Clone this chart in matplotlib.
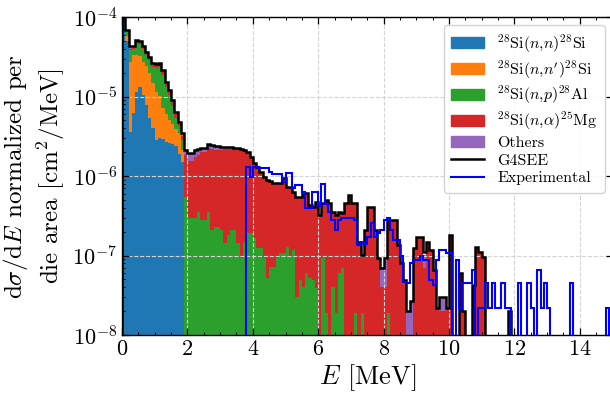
import numpy as np
import matplotlib
matplotlib.use("Agg")
import matplotlib.pyplot as plt
from matplotlib.patches import Patch
from matplotlib.lines import Line2D
from matplotlib.ticker import MultipleLocator, LogLocator

plt.rcParams.update({
    "font.family": "serif",
    "font.serif": ["cmr10"],
    "mathtext.fontset": "cm",
    "axes.formatter.use_mathtext": True,
    "axes.unicode_minus": False,
})

# ---------------- data (dsigma/dE, units of 1e-8 cm^2/MeV), 0.1 MeV bins from 0 to 15 MeV
UNIT = 1e-8
E_MIN, E_MAX, N_BINS = 0.0, 15.0, 150

G4SEE_TOTAL = [
    9800, 6900, 4350, 4350, 5200, 5000, 4350, 3650, 3150, 2650,
    2600, 2650, 2150, 1530, 1210, 910, 640, 480, 350, 213,
    195, 195, 213, 219, 225, 225, 253, 246, 239, 239,
    232, 232, 232, 232, 228, 222, 219, 215, 200, 174,
    146, 130, 112, 97, 89, 86, 82, 82, 82, 94,
    73, 73, 63, 54, 54, 61, 61, 43, 41, 47,
    32, 46, 50, 46, 35, 32, 35, 34, 46, 58,
    46, 46, 14.7, 10.1, 21, 41, 41, 21, 9.2, 6.9,
    9.2, 28, 28, 28, 13.5, 8.0, 4.9, 2.0, 2.7, 12.4,
    17, 17, 11, 14.7, 11.7, 6.5, 2.2, 3.0, 3.0, 2.2,
    18, 0, 0, 6.0, 2.0, 0, 0, 4.2, 12.7, 11,
    9.5, 0, 0, 0, 0, 0, 0, 0, 2.0, 0,
    0, 0, 0, 0, 0, 0, 0, 0, 0, 0,
    0, 0, 0, 0, 0, 0, 0, 0, 0, 0,
    0, 0, 0, 0, 0, 0, 0, 0, 0, 0,
]

SI_NN = [
    9300, 5000, 360, 620, 1150, 1320, 1050, 790, 540, 400,
    280, 300, 290, 270, 260, 250, 240, 190, 150, 0,
    0, 0, 0, 0, 0, 0, 0, 0, 0, 0,
    0, 0, 0, 0, 0, 0, 0, 0, 0, 0,
    0, 0, 0, 0, 0, 0, 0, 0, 0, 0,
    0, 0, 0, 0, 0, 0, 0, 0, 0, 0,
    0, 0, 0, 0, 0, 0, 0, 0, 0, 0,
    0, 0, 0, 0, 0, 0, 0, 0, 0, 0,
    0, 0, 0, 0, 0, 0, 0, 0, 0, 0,
    0, 0, 0, 0, 0, 0, 0, 0, 0, 0,
    0, 0, 0, 0, 0, 0, 0, 0, 0, 0,
    0, 0, 0, 0, 0, 0, 0, 0, 0, 0,
    0, 0, 0, 0, 0, 0, 0, 0, 0, 0,
    0, 0, 0, 0, 0, 0, 0, 0, 0, 0,
    0, 0, 0, 0, 0, 0, 0, 0, 0, 0,
]

SI_NNP = [
    200, 800, 2390, 2740, 2210, 1880, 1700, 1610, 1460, 1100,
    870, 700, 430, 330, 250, 200, 150, 160, 60, 0,
    0, 0, 0, 0, 0, 0, 0, 0, 0, 0,
    0, 0, 0, 0, 0, 0, 0, 0, 0, 0,
    0, 0, 0, 0, 0, 0, 0, 0, 0, 0,
    0, 0, 0, 0, 0, 0, 0, 0, 0, 0,
    0, 0, 0, 0, 0, 0, 0, 0, 0, 0,
    0, 0, 0, 0, 0, 0, 0, 0, 0, 0,
    0, 0, 0, 0, 0, 0, 0, 0, 0, 0,
    0, 0, 0, 0, 0, 0, 0, 0, 0, 0,
    0, 0, 0, 0, 0, 0, 0, 0, 0, 0,
    0, 0, 0, 0, 0, 0, 0, 0, 0, 0,
    0, 0, 0, 0, 0, 0, 0, 0, 0, 0,
    0, 0, 0, 0, 0, 0, 0, 0, 0, 0,
    0, 0, 0, 0, 0, 0, 0, 0, 0, 0,
]

SI_NP = [
    0, 600, 1100, 600, 1300, 1350, 1200, 900, 850, 850,
    1150, 1350, 1150, 700, 520, 320, 150, 70, 70, 54,
    30, 30, 30, 35, 28, 28, 35, 21, 23, 23,
    21, 14.5, 18, 21, 21, 14.5, 9.2, 14.7, 19, 19,
    16.5, 12.5, 12.5, 9.2, 5.2, 7.1, 7.1, 9.2, 10.7, 10.7,
    12.7, 9.5, 11.7, 3.0, 4.9, 4.0, 6.0, 5.2, 4.9, 3.9,
    0, 9.2, 1.9, 0, 4.0, 1.9, 6.0, 6.9, 0, 0,
    0, 1.9, 0, 1.9, 0, 0, 0, 0, 0, 0,
    0, 1.9, 0, 0, 0, 0, 0, 0, 0, 0,
    0, 0, 0, 0, 0, 0, 0, 0, 0, 0,
    0, 0, 0, 0, 0, 0, 0, 0, 0, 0,
    0, 0, 0, 0, 0, 0, 0, 0, 0, 0,
    0, 0, 0, 0, 0, 0, 0, 0, 0, 0,
    0, 0, 0, 0, 0, 0, 0, 0, 0, 0,
    0, 0, 0, 0, 0, 0, 0, 0, 0, 0,
]

SI_NA = [
    0, 0, 150, 100, 150, 150, 150, 150, 120, 150,
    150, 150, 150, 130, 100, 80, 60, 30, 40, 129,
    125, 125, 143, 149, 170, 170, 188, 195, 191, 191,
    191, 202, 200, 199, 195, 197, 200, 192, 175, 151,
    126, 115, 99, 88, 84, 79, 75, 73, 71, 83,
    60, 63, 51, 51, 49, 57, 55, 38, 36, 43,
    32, 37, 48, 46, 31, 30, 29, 27, 46, 58,
    46, 44, 14.7, 8.2, 21, 41, 41, 21, 9.2, 4.0,
    4.0, 26, 28, 28, 13.5, 8.0, 4.9, 0, 0, 12.4,
    17, 17, 7.0, 14.7, 11.7, 6.5, 2.2, 2.0, 2.0, 2.2,
    18, 0, 0, 6.0, 2.0, 0, 0, 4.2, 12.7, 11,
    9.5, 0, 0, 0, 0, 0, 0, 0, 0, 0,
    0, 0, 0, 0, 0, 0, 0, 0, 0, 0,
    0, 0, 0, 0, 0, 0, 0, 0, 0, 0,
    0, 0, 0, 0, 0, 0, 0, 0, 0, 0,
]

OTHERS = [
    300, 500, 350, 290, 390, 300, 250, 200, 180, 150,
    150, 150, 130, 100, 80, 60, 40, 30, 30, 30,
    40, 40, 40, 35, 27, 27, 30, 30, 25, 25,
    20, 15, 14, 12, 12, 10, 10, 8, 6, 4,
    3, 2, 0, 0, 0, 0, 0, 0, 0, 0,
    0, 0, 0, 0, 0, 0, 0, 0, 0, 0,
    0, 0, 0, 0, 0, 0, 0, 0, 0, 0,
    0, 0, 0, 0, 0, 0, 0, 0, 0, 2.9,
    4.7, 0, 0, 0, 0, 0, 0, 2.0, 2.7, 0,
    0, 0, 3.0, 0, 0, 0, 0, 1.0, 1.0, 0,
    0, 0, 0, 0, 0, 0, 0, 0, 0, 0,
    0, 0, 0, 0, 0, 0, 0, 0, 2.0, 0,
    0, 0, 0, 0, 0, 0, 0, 0, 0, 0,
    0, 0, 0, 0, 0, 0, 0, 0, 0, 0,
    0, 0, 0, 0, 0, 0, 0, 0, 0, 0,
]

EXPERIMENTAL = [
    0, 0, 0, 0, 0, 0, 0, 0, 0, 0,
    0, 0, 0, 0, 0, 0, 0, 0, 0, 0,
    0, 0, 0, 0, 0, 0, 0, 0, 0, 0,
    0, 0, 0, 0, 0, 0, 0, 0, 130, 97,
    130, 130, 126, 126, 126, 112, 106, 106, 106, 84,
    109, 109, 71, 77, 77, 63, 40, 40, 63, 63,
    42, 80, 45, 35, 28, 21, 28, 30, 30, 30,
    30, 28, 13.5, 14.7, 14, 17, 25.5, 17, 19, 21,
    28, 30, 21, 15.6, 15.6, 10, 4.6, 4.5, 8, 8.7,
    8.7, 10, 8.7, 8.7, 4.9, 4.2, 8.7, 11.7, 11.7, 10.7,
    10.7, 0, 8.7, 2.2, 4.5, 4.5, 4.5, 6.5, 0, 2.2,
    2.2, 4.5, 2.2, 4.5, 2.2, 2.2, 4.5, 2.2, 2.2, 0,
    0, 4.5, 0, 0, 4.5, 2.2, 0, 6.5, 2.2, 4.5,
    2.2, 0, 0, 0, 0, 0, 0, 4.5, 0, 0,
    0, 0, 0, 0, 0, 0, 0, 0, 2.2, 0,
]

COMPONENT_LABELS = [
    r"$^{28}$Si($n$,$n$)$^{28}$Si",
    r"$^{28}$Si($n$,$n'$)$^{28}$Si",
    r"$^{28}$Si($n$,$p$)$^{28}$Al",
    r"$^{28}$Si($n$,$\alpha$)$^{25}$Mg",
    "Others",
]
COMPONENT_COLORS = ["#1f77b4", "#ff7f0e", "#2ca02c", "#d62728", "#9467bd"]

# ---------------- plot
W, H = 610, 398
fig = plt.figure(figsize=(W / 100, H / 100), dpi=100)
ax = fig.add_axes([122 / W, 63 / H, 490.5 / W, 318 / H])

edges = np.linspace(E_MIN, E_MAX, N_BINS + 1)
FLOOR = 1e-14

components = [SI_NN, SI_NNP, SI_NP, SI_NA, OTHERS]
bottom = np.full(N_BINS, FLOOR)
for vals, col in zip(components, COMPONENT_COLORS):
    top = bottom + np.asarray(vals, float) * UNIT
    ax.stairs(top, edges, baseline=bottom, fill=True, color=col, lw=0, zorder=1)
    bottom = top

tot = np.asarray(G4SEE_TOTAL, float) * UNIT
ax.stairs(np.where(tot > 0, tot, FLOOR), edges, baseline=FLOOR,
          color="black", lw=1.8, zorder=3)
exp = np.asarray(EXPERIMENTAL, float) * UNIT
ax.stairs(np.where(exp > 0, exp, FLOOR), edges, baseline=FLOOR,
          color="blue", lw=1.5, zorder=4)

ax.set_yscale("log")
ax.set_xlim(E_MIN, E_MAX)
ax.set_ylim(1e-8, 1e-4)

ax.xaxis.set_major_locator(MultipleLocator(2))
ax.xaxis.set_minor_locator(MultipleLocator(0.5))
ax.yaxis.set_major_locator(LogLocator(base=10, numticks=10))
ax.yaxis.set_minor_locator(LogLocator(base=10, subs=np.arange(2, 10), numticks=20))
ax.tick_params(which="both", direction="in", top=True, right=True, labelsize=16)
ax.tick_params(which="major", length=5, width=0.9)
ax.tick_params(which="minor", length=2.5, width=0.7)
for sp in ax.spines.values():
    sp.set_linewidth(1.0)

ax.grid(True, which="major", linestyle="--", color="#d4d4d4", lw=0.8)

ax.set_xlabel(r"$E$ [MeV]", fontsize=19, labelpad=2)
ax.set_ylabel("d$\\sigma$/d$E$ normalized per\ndie area [cm$^2$/MeV]", fontsize=18,
              labelpad=4)

handles = [Patch(facecolor=c, edgecolor=c) for c in COMPONENT_COLORS]
handles += [Line2D([], [], color="black", lw=1.8), Line2D([], [], color="blue", lw=1.5)]
labels = COMPONENT_LABELS + ["G4SEE", "Experimental"]
ax.legend(handles, labels, loc="upper right", fontsize=11.5, framealpha=0.85,
          edgecolor="#cccccc", borderaxespad=0.5, labelspacing=0.22,
          handlelength=2.1, handleheight=0.7, borderpad=0.45)

fig.savefig("out.png", dpi=100)
